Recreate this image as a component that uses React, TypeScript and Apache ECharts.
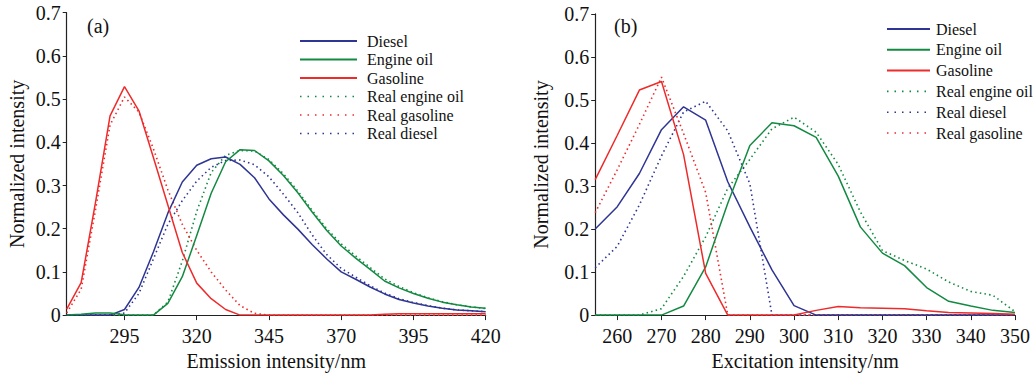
import React, { useEffect, useRef } from "react";
import * as echarts from "echarts";

// ---------- Panel (a): emission spectra ----------
const emX = [275, 280, 285, 290, 295, 300, 305, 310, 315, 320, 325, 330, 335, 340, 345, 350, 355, 360, 365, 370, 375, 380, 385, 390, 395, 400, 405, 410, 415, 420];
const emDiesel = [0, 0, 0, 0, 0.013, 0.064, 0.146, 0.236, 0.308, 0.347, 0.362, 0.366, 0.349, 0.318, 0.269, 0.232, 0.199, 0.163, 0.13, 0.1, 0.083, 0.065, 0.049, 0.036, 0.028, 0.021, 0.016, 0.012, 0.01, 0.008];
const emEngineOil = [0, 0.002, 0.005, 0.005, 0.001, 0, 0, 0.027, 0.089, 0.184, 0.282, 0.355, 0.383, 0.381, 0.357, 0.323, 0.283, 0.238, 0.196, 0.16, 0.132, 0.106, 0.079, 0.063, 0.05, 0.039, 0.03, 0.024, 0.019, 0.016];
const emGasoline = [0.014, 0.075, 0.262, 0.461, 0.529, 0.473, 0.365, 0.255, 0.145, 0.074, 0.038, 0.013, 0, 0, 0, 0, 0, 0, 0, 0, 0, 0, 0.002, 0.003, 0.003, 0.003, 0.003, 0.003, 0.003, 0.003];
const emRealEngineOil = [0, 0, 0, 0, 0, 0, 0, 0.03, 0.125, 0.24, 0.33, 0.37, 0.381, 0.38, 0.36, 0.327, 0.287, 0.242, 0.2, 0.165, 0.137, 0.11, 0.084, 0.066, 0.052, 0.04, 0.031, 0.024, 0.019, 0.015];
const emRealGasoline = [0.005, 0.06, 0.245, 0.44, 0.505, 0.47, 0.385, 0.29, 0.21, 0.15, 0.1, 0.058, 0.022, 0.004, 0, 0, 0, 0, 0, 0, 0, 0, 0, 0, 0, 0, 0, 0, 0, 0];
const emRealDiesel = [0, 0, 0, 0, 0.005, 0.05, 0.13, 0.21, 0.265, 0.31, 0.342, 0.358, 0.359, 0.348, 0.32, 0.28, 0.237, 0.185, 0.14, 0.108, 0.088, 0.068, 0.051, 0.038, 0.029, 0.022, 0.016, 0.012, 0.01, 0.008];
const emTicks = [295, 320, 345, 370, 395, 420];

// ---------- Panel (b): excitation spectra ----------
const exX = [255, 260, 265, 270, 275, 280, 285, 290, 295, 300, 305, 310, 315, 320, 325, 330, 335, 340, 345, 350];
const exDiesel = [0.2, 0.252, 0.329, 0.431, 0.484, 0.453, 0.31, 0.205, 0.105, 0.022, 0, 0, 0, 0, 0, 0, 0, 0, 0, 0];
const exEngineOil = [0, 0, 0, 0, 0.021, 0.112, 0.26, 0.394, 0.447, 0.44, 0.413, 0.323, 0.205, 0.144, 0.115, 0.064, 0.032, 0.021, 0.011, 0.006];
const exGasoline = [0.315, 0.418, 0.523, 0.543, 0.373, 0.097, 0, 0, 0, 0, 0.011, 0.02, 0.017, 0.016, 0.015, 0.01, 0.006, 0.005, 0.004, 0.002];
const exRealEngineOil = [0, 0, 0, 0.015, 0.09, 0.182, 0.295, 0.362, 0.433, 0.46, 0.425, 0.35, 0.24, 0.15, 0.127, 0.107, 0.077, 0.055, 0.046, 0.008];
const exRealDiesel = [0.11, 0.16, 0.256, 0.37, 0.472, 0.497, 0.428, 0.305, 0, 0, 0, 0, 0, 0, 0, 0, 0, 0, 0, 0];
const exRealGasoline = [0.238, 0.338, 0.443, 0.553, 0.422, 0.285, 0, 0, 0, 0, 0, 0, 0, 0, 0, 0, 0, 0, 0, 0];
const exTicks = [260, 270, 280, 290, 300, 310, 320, 330, 340, 350];

const legendA = ["Diesel", "Engine oil", "Gasoline", "Real engine oil", "Real gasoline", "Real diesel"];
const legendB = ["Diesel", "Engine oil", "Gasoline", "Real engine oil", "Real diesel", "Real gasoline"];

const BLUE = "#2e3592";
const GREEN = "#138a42";
const RED = "#ee2b2b";
const FONT = "'Liberation Serif', 'Times New Roman', serif";
const DOT = [1.5, 3.2];
const LEGEND_DOT = [1.5, 6];

function pairs(xs: number[], ys: number[]) {
  return xs.map((x, i) => [x, ys[i]]);
}

function line(name: string, idx: number, xs: number[], ys: number[], color: string, dotted: boolean) {
  return {
    name,
    type: "line",
    xAxisIndex: idx,
    yAxisIndex: idx,
    symbol: "none",
    showSymbol: false,
    data: pairs(xs, ys),
    lineStyle: { color, width: dotted ? 1.6 : 1.5, type: dotted ? DOT : "solid" },
    itemStyle: { color },
    z: dotted ? 2 : 3,
  };
}

function xAxis(idx: number, min: number, max: number, ticks: number[], name: string) {
  return {
    type: "value",
    gridIndex: idx,
    min,
    max,
    name,
    nameLocation: "middle",
    nameGap: 29,
    nameTextStyle: { fontFamily: FONT, fontSize: 20, color: "#111" },
    axisLine: { lineStyle: { color: "#222", width: 1.2 } },
    axisTick: { show: true, inside: false, length: 5, customValues: ticks, lineStyle: { color: "#222" } },
    axisLabel: { customValues: ticks, fontFamily: FONT, fontSize: 20, color: "#111", margin: 11 },
    splitLine: { show: false },
  };
}

function yAxis(idx: number, gap: number) {
  return {
    type: "value",
    gridIndex: idx,
    min: 0,
    max: 0.7,
    interval: 0.1,
    name: "Normalized intensity",
    nameLocation: "middle",
    nameRotate: 90,
    nameGap: gap,
    nameTextStyle: { fontFamily: FONT, fontSize: 20, color: "#111" },
    axisLine: { show: true, lineStyle: { color: "#222", width: 1.2 } },
    axisTick: { show: true, inside: false, length: 4, lineStyle: { color: "#222" } },
    axisLabel: {
      fontFamily: FONT,
      fontSize: 20,
      color: "#111",
      margin: 6,
      formatter: (v: number) => (Math.abs(v) < 1e-9 ? "0" : (Math.round(v * 10) / 10).toFixed(1)),
    },
    splitLine: { show: false },
  };
}

function legend(names: string[], left: number, top: number, width: number, gap: number, pad: number) {
  return {
    orient: "vertical",
    left,
    top,
    itemWidth: width,
    itemHeight: 12,
    itemGap: gap,
    padding: 0,
    itemStyle: { opacity: 0, borderWidth: 0 },
    data: names.map((n) =>
      n.indexOf("Real") === 0 ? { name: n, lineStyle: { type: LEGEND_DOT, width: 1.6 } } : { name: n }
    ),
    textStyle: { fontFamily: FONT, fontSize: 16, color: "#111", lineHeight: 16, padding: [0, 0, 0, pad] },
  };
}

export default function App() {
  const ref = useRef<HTMLDivElement>(null);
  useEffect(() => {
    if (!ref.current) return;
    const chart = echarts.init(ref.current, undefined, { renderer: "svg" });
    const option = {
      animation: false,
      backgroundColor: "#ffffff",
      grid: [
        { left: 66.7, top: 12.7, width: 419, height: 308, containLabel: false },
        { left: 595.2, top: 13.9, width: 419.8, height: 306.8, containLabel: false },
      ],
      xAxis: [
        xAxis(0, emX[0], emX[emX.length - 1], emTicks, "Emission intensity/nm"),
        xAxis(1, exX[0], exX[exX.length - 1], exTicks, "Excitation intensity/nm"),
      ],
      yAxis: [yAxis(0, 40), yAxis(1, 44)],
      legend: [legend(legendA, 299, 33, 57, 2.5, 5), legend(legendB, 886, 21, 43, 4.8, 1)],
      graphic: [
        { type: "text", left: 87, top: 16, style: { text: "(a)", font: `20px ${FONT}`, fill: "#111" } },
        { type: "text", left: 614, top: 16, style: { text: "(b)", font: `20px ${FONT}`, fill: "#111" } },
      ],
      series: [
        line("Diesel", 0, emX, emDiesel, BLUE, false),
        line("Engine oil", 0, emX, emEngineOil, GREEN, false),
        line("Gasoline", 0, emX, emGasoline, RED, false),
        line("Real engine oil", 0, emX, emRealEngineOil, GREEN, true),
        line("Real gasoline", 0, emX, emRealGasoline, RED, true),
        line("Real diesel", 0, emX, emRealDiesel, BLUE, true),
        line("Diesel", 1, exX, exDiesel, BLUE, false),
        line("Engine oil", 1, exX, exEngineOil, GREEN, false),
        line("Gasoline", 1, exX, exGasoline, RED, false),
        line("Real engine oil", 1, exX, exRealEngineOil, GREEN, true),
        line("Real diesel", 1, exX, exRealDiesel, BLUE, true),
        line("Real gasoline", 1, exX, exRealGasoline, RED, true),
      ],
    };
    chart.setOption(option as any);
    return () => chart.dispose();
  }, []);
  return (
    <div
      ref={ref}
      style={{ position: "absolute", left: 0, top: 0, width: 1036, height: 376, background: "#fff" }}
    />
  );
}
